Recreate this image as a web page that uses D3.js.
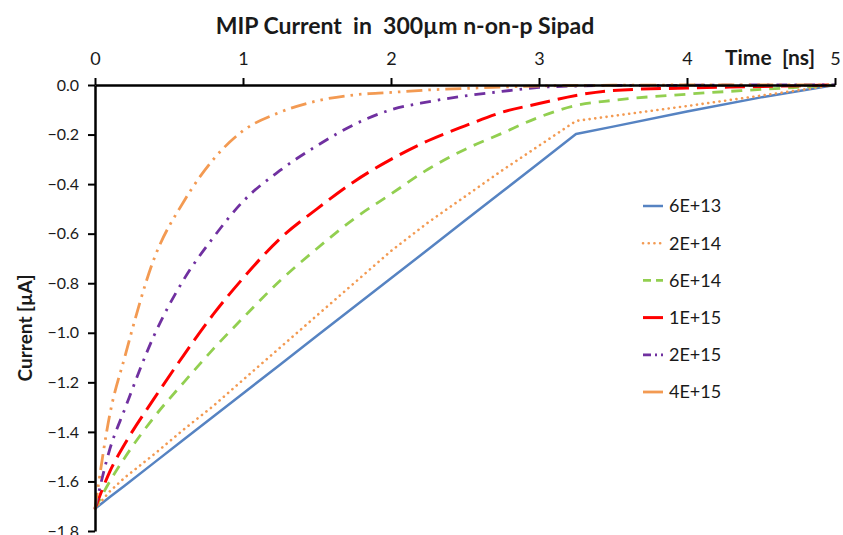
<!DOCTYPE html>
<html>
<head>
<meta charset="utf-8">
<script src="https://cdn.jsdelivr.net/npm/d3@7"></script>
<style>
  html, body { margin: 0; padding: 0; background: #fff; }
  svg { display: block; font-family: Lato, "Open Sans", sans-serif; }
  text { white-space: pre; }
</style>
</head>
<body>
<svg id="chart" width="843" height="535"></svg>
<script>
// Sample times (ns)
const times = [0, 0.1, 0.2, 0.4, 0.6, 0.8, 1.0, 1.25, 1.5, 1.75, 2.0, 2.25, 2.5, 2.75, 3.0, 3.25, 3.5, 4.0, 4.5, 5.0];

// Induced current (µA) for each fluence
const cur6e13 = [-1.71, -1.663, -1.617, -1.524, -1.431, -1.338, -1.245, -1.129, -1.012, -0.896, -0.78, -0.664, -0.547, -0.431, -0.315, -0.198, -0.168, -0.107, -0.05, 0];
const cur2e14 = [-1.71, -1.64, -1.585, -1.49, -1.39, -1.295, -1.19, -1.06, -0.93, -0.80, -0.67, -0.555, -0.45, -0.345, -0.245, -0.145, -0.125, -0.085, -0.043, 0];
const cur6e14 = [-1.71, -1.60, -1.505, -1.34, -1.20, -1.065, -0.94, -0.79, -0.66, -0.54, -0.44, -0.34, -0.26, -0.195, -0.13, -0.083, -0.062, -0.037, -0.018, 0];
const cur1e15 = [-1.71, -1.56, -1.45, -1.265, -1.09, -0.925, -0.78, -0.62, -0.50, -0.39, -0.30, -0.225, -0.165, -0.11, -0.075, -0.042, -0.022, -0.012, -0.006, 0];
const cur2e15 = [-1.71, -1.47, -1.31, -1.01, -0.785, -0.615, -0.47, -0.345, -0.245, -0.16, -0.10, -0.068, -0.044, -0.026, -0.01, -0.004, -0.002, -0.001, 0, 0];
const cur4e15 = [-1.71, -1.33, -1.10, -0.70, -0.47, -0.30, -0.185, -0.11, -0.064, -0.04, -0.03, -0.02, -0.014, -0.008, -0.004, -0.002, -0.001, 0, 0, 0];

const seriesNames = ["6E+13", "2E+14", "6E+14", "1E+15", "2E+15", "4E+15"];
const seriesValues = [cur6e13, cur2e14, cur6e14, cur1e15, cur2e15, cur4e15];

const xTicks = [0, 1, 2, 3, 4, 5];
const yTicks = [0, -0.2, -0.4, -0.6, -0.8, -1.0, -1.2, -1.4, -1.6, -1.8];

// Line styles per series; the first two have a sharp knee, the rest are smooth
const styles = [
  { color: "#5683c2", width: 2.5, dash: null, cap: "butt", smooth: false, legendDash: null },
  { color: "#f39a52", width: 2.6, dash: "0.1 5.6", cap: "round", smooth: false, legendDash: "0.1 5.6" },
  { color: "#92cf50", width: 2.8, dash: "11 8", cap: "butt", smooth: true, legendDash: "8 5" },
  { color: "#ff0000", width: 3, dash: "20 8", cap: "butt", smooth: true, legendDash: null },
  { color: "#7030a0", width: 2.8, dash: "11 7 2.5 7", cap: "butt", smooth: true, legendDash: "8 4 2 4" },
  { color: "#f39a52", width: 2.8, dash: "16 6 2.5 6 2.5 6", cap: "butt", smooth: true, legendDash: null }
];

const svg = d3.select("#chart");
const margin = { left: 95, right: 8, top: 85, bottom: 4 };
const W = 843, H = 535;

const x = d3.scaleLinear().domain([0, 5]).range([margin.left, W - margin.right]);
const y = d3.scaleLinear().domain([-1.8, 0]).range([H - margin.bottom, margin.top]);

// Title
svg.append("text")
  .attr("x", 405).attr("y", 34)
  .attr("text-anchor", "middle")
  .attr("font-size", 23).attr("font-weight", "bold").attr("fill", "#1a1a1a")
  .text("MIP Current  in  300µm n-on-p Sipad");

// Curves
const plot = svg.append("g");
seriesValues.forEach((vals, k) => {
  const s = styles[k];
  const line = d3.line()
    .x((d, i) => x(times[i]))
    .y(d => y(d))
    .curve(s.smooth ? d3.curveMonotoneX : d3.curveLinear);
  plot.append("path")
    .datum(vals)
    .attr("d", line)
    .attr("fill", "none")
    .attr("stroke", s.color)
    .attr("stroke-width", s.width)
    .attr("stroke-linecap", s.cap)
    .attr("stroke-linejoin", "round")
    .attr("stroke-dasharray", s.dash);
});

// Axes
const xAxis = d3.axisTop(x).tickValues(xTicks).tickFormat(d3.format("d")).tickSize(7).tickSizeOuter(0).tickPadding(13);
const yAxis = d3.axisLeft(y).tickValues(yTicks).tickFormat(d3.format(".1f")).tickSize(7).tickSizeOuter(0).tickPadding(9);

const gx = svg.append("g").attr("transform", `translate(0,${y(0)})`).call(xAxis);
const gy = svg.append("g").attr("transform", `translate(${x(0)},0)`).call(yAxis);

[gx, gy].forEach(g => {
  g.select(".domain").attr("stroke", "#000").attr("stroke-width", 2.5);
  g.selectAll(".tick line").attr("stroke", "#000").attr("stroke-width", 2);
  g.selectAll(".tick text").attr("fill", "#1a1a1a").attr("font-family", "Lato, 'Open Sans', sans-serif");
});
gx.selectAll(".tick text").attr("font-size", 18);
gy.selectAll(".tick text").attr("font-size", 16);

// Axis titles
svg.append("text")
  .attr("x", 770).attr("y", 65)
  .attr("text-anchor", "middle")
  .attr("font-size", 21).attr("font-weight", "bold").attr("fill", "#1a1a1a")
  .text("Time  [ns]");

svg.append("text")
  .attr("transform", "translate(32,328) rotate(-90)")
  .attr("text-anchor", "middle")
  .attr("font-size", 19).attr("font-weight", "bold").attr("fill", "#1a1a1a")
  .text("Current [µA]");

// Legend
const legend = svg.append("g");
const legendY = d3.scalePoint().domain(seriesNames).range([206, 392]);
seriesNames.forEach((name, k) => {
  const s = styles[k];
  const yy = legendY(name);
  legend.append("line")
    .attr("x1", 643).attr("x2", 663).attr("y1", yy).attr("y2", yy)
    .attr("stroke", s.color).attr("stroke-width", s.width)
    .attr("stroke-linecap", s.cap)
    .attr("stroke-dasharray", s.legendDash);
  legend.append("text")
    .attr("x", 669).attr("y", yy)
    .attr("dy", "0.36em")
    .attr("font-size", 18).attr("fill", "#1a1a1a")
    .text(name);
});
</script>
</body>
</html>
